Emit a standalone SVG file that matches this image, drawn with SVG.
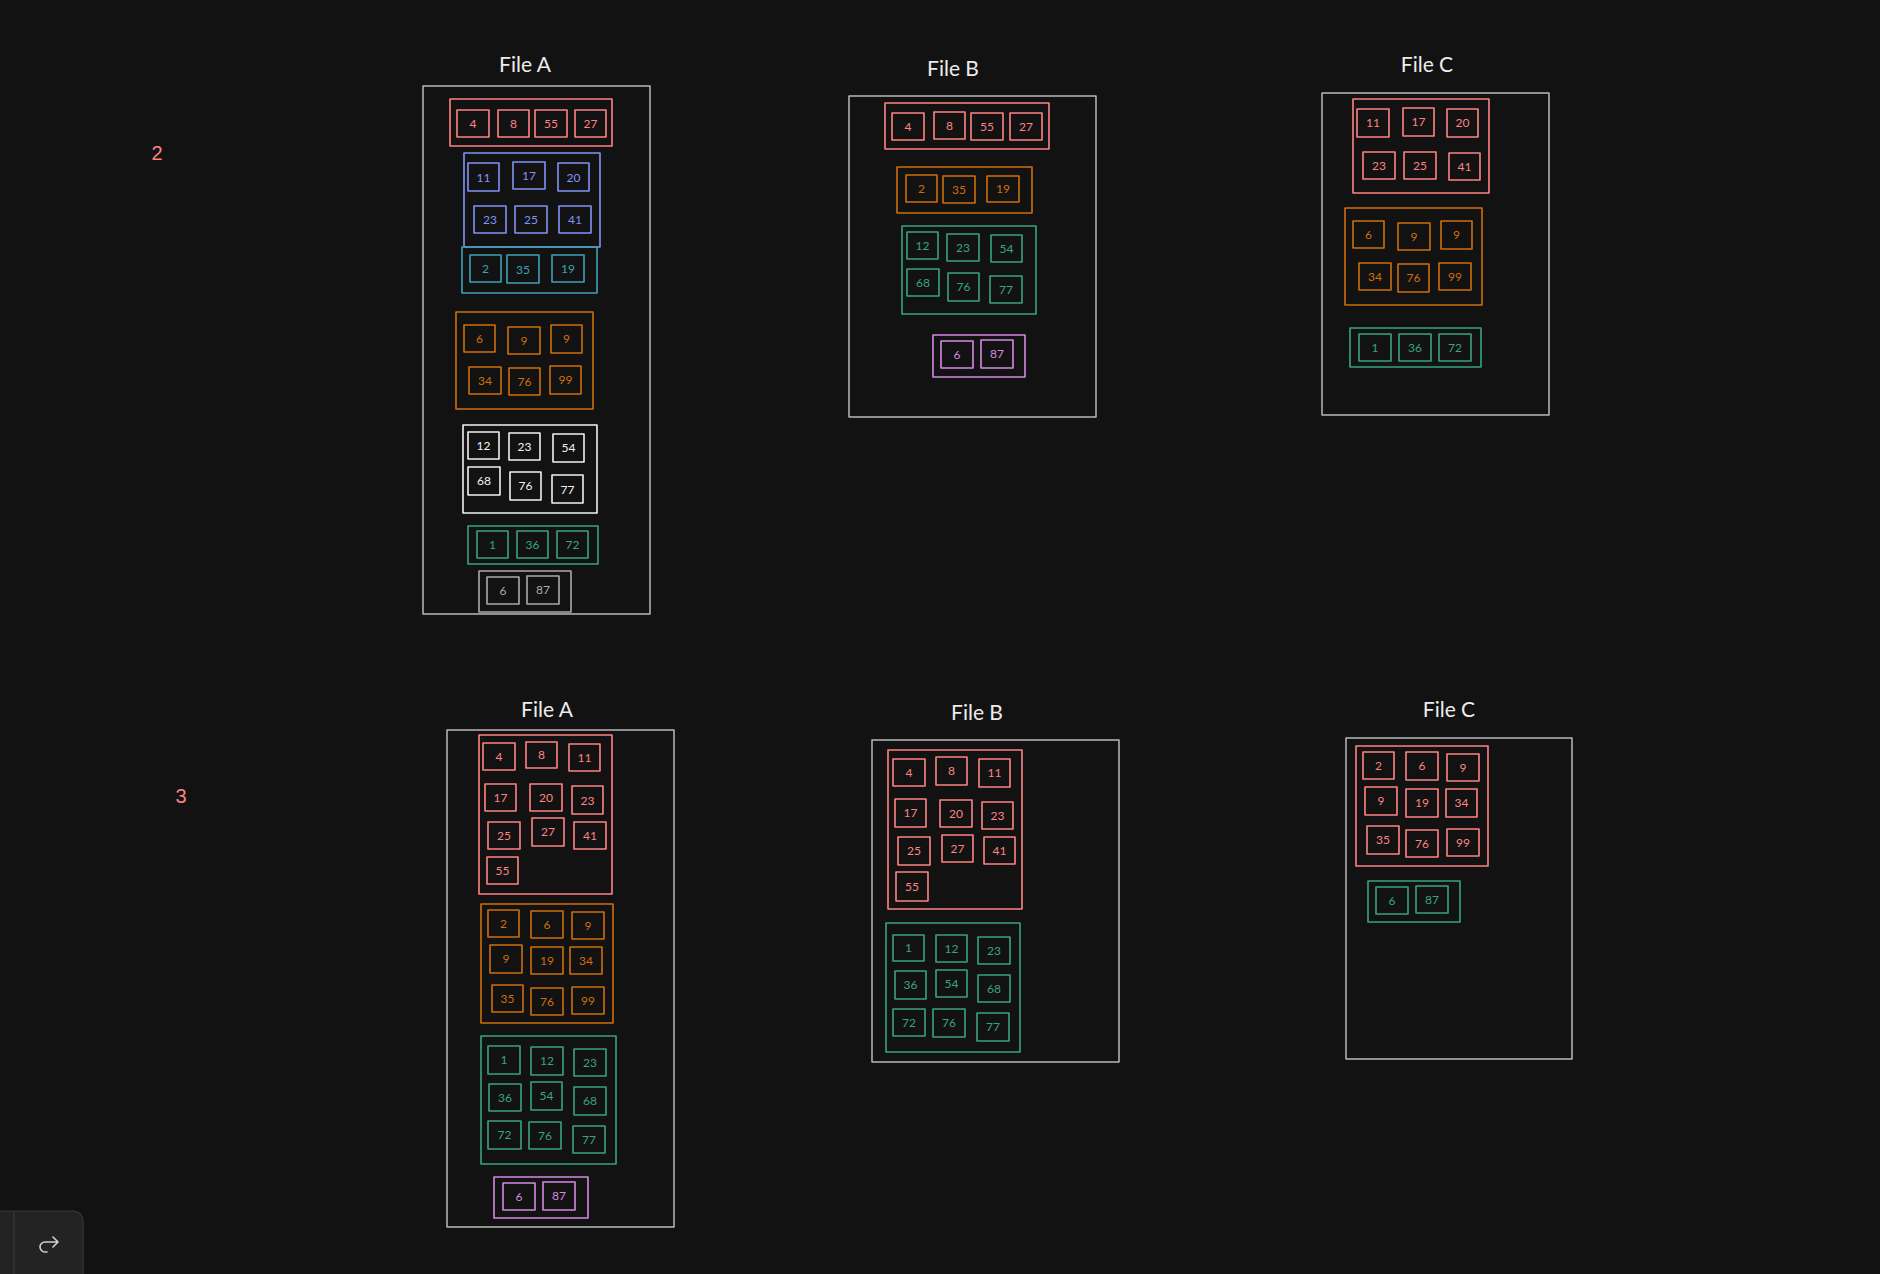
<svg xmlns="http://www.w3.org/2000/svg" width="1880" height="1274" viewBox="0 0 1880 1274">
<style>
text{font-family:Lato,"Noto Sans",sans-serif;text-anchor:middle;dominant-baseline:central}
.c rect,.frame{fill:none;stroke-width:1.6;stroke-linejoin:round}
.frame{stroke:#b9b9b9;stroke-width:1.5}
.title{font-size:21px;fill:#ececec}
.num{font-family:"Liberation Sans",Arial,sans-serif;font-size:20px;fill:#ff8383;dominant-baseline:auto}
.c text{font-size:12px}
.r rect{stroke:#ff8383}.r text{fill:#ff8383}
.b rect{stroke:#8193f5}.b text{fill:#8193f5}
.t rect{stroke:#3fa2b2}.t text{fill:#3fa2b2}
.o rect{stroke:#cf6f0b}.o text{fill:#cf6f0b}
.w rect{stroke:#f2f2f2}.w text{fill:#f2f2f2}
.g rect{stroke:#39a382}.g text{fill:#39a382}
.p rect{stroke:#d48ae2}.p text{fill:#d48ae2}
.y rect{stroke:#ababab}.y text{fill:#ababab}
</style>
<rect x="0" y="0" width="1880" height="1274" style="fill:#121212;stroke:none"/>

<text class="num" x="157" y="160">2</text>
<text class="num" x="181" y="803">3</text>

<!-- ===== Row 2 : File A ===== -->
<g id="fileA2">
<text class="title" x="525" y="63">File A</text>
<rect class="frame" x="423" y="86" width="227" height="528"/>
<g id="fileA2-red" class="c r">
<rect x="450" y="99" width="162" height="47"/>
<g id="a2r4"><rect x="457" y="110" width="32" height="27"/><text x="473" y="123">4</text></g>
<g id="a2r8"><rect x="498" y="110" width="31" height="27"/><text x="513.5" y="123">8</text></g>
<g id="a2r55"><rect x="535" y="110" width="32" height="27"/><text x="551" y="123">55</text></g>
<g id="a2r27"><rect x="575" y="110" width="31" height="27"/><text x="590.5" y="123">27</text></g>
</g>
<g id="fileA2-blue" class="c b">
<rect x="464" y="153" width="136" height="94"/>
<g id="a2b11"><rect x="468" y="163" width="31" height="28"/><text x="483.5" y="177">11</text></g>
<g id="a2b17"><rect x="513" y="162" width="32" height="27"/><text x="529" y="175">17</text></g>
<g id="a2b20"><rect x="558" y="163" width="31" height="28"/><text x="573.5" y="177">20</text></g>
<g id="a2b23"><rect x="474" y="206" width="32" height="27"/><text x="490" y="219">23</text></g>
<g id="a2b25"><rect x="515" y="206" width="32" height="27"/><text x="531" y="219">25</text></g>
<g id="a2b41"><rect x="559" y="206" width="32" height="27"/><text x="575" y="219">41</text></g>
</g>
<g id="fileA2-teal" class="c t">
<rect x="462" y="247" width="135" height="46"/>
<g id="a2t2"><rect x="470" y="255" width="31" height="27"/><text x="485.5" y="268">2</text></g>
<g id="a2t35"><rect x="507" y="255" width="32" height="28"/><text x="523" y="269">35</text></g>
<g id="a2t19"><rect x="552" y="255" width="32" height="27"/><text x="568" y="268">19</text></g>
</g>
<g id="fileA2-orange" class="c o">
<rect x="456" y="312" width="137" height="97"/>
<g id="a2o6"><rect x="464" y="325" width="31" height="27"/><text x="479.5" y="338">6</text></g>
<g id="a2o9a"><rect x="508" y="327" width="32" height="27"/><text x="524" y="340">9</text></g>
<g id="a2o9b"><rect x="551" y="325" width="31" height="28"/><text x="566.5" y="338">9</text></g>
<g id="a2o34"><rect x="469" y="367" width="32" height="27"/><text x="485" y="380">34</text></g>
<g id="a2o76"><rect x="509" y="368" width="31" height="27"/><text x="524.5" y="381">76</text></g>
<g id="a2o99"><rect x="550" y="366" width="31" height="28"/><text x="565.5" y="379">99</text></g>
</g>
<g id="fileA2-white" class="c w">
<rect x="463" y="425" width="134" height="88"/>
<g id="a2w12"><rect x="468" y="432" width="31" height="27"/><text x="483.5" y="445">12</text></g>
<g id="a2w23"><rect x="509" y="433" width="31" height="27"/><text x="524.5" y="446">23</text></g>
<g id="a2w54"><rect x="553" y="434" width="31" height="28"/><text x="568.5" y="447">54</text></g>
<g id="a2w68"><rect x="468" y="467" width="32" height="28"/><text x="484" y="480">68</text></g>
<g id="a2w76"><rect x="510" y="472" width="31" height="28"/><text x="525.5" y="485">76</text></g>
<g id="a2w77"><rect x="552" y="475" width="31" height="28"/><text x="567.5" y="489">77</text></g>
</g>
<g id="fileA2-green" class="c g">
<rect x="468" y="526" width="130" height="38"/>
<g id="a2g1"><rect x="477" y="531" width="31" height="27"/><text x="492.5" y="544">1</text></g>
<g id="a2g36"><rect x="517" y="531" width="31" height="27"/><text x="532.5" y="544">36</text></g>
<g id="a2g72"><rect x="557" y="531" width="31" height="27"/><text x="572.5" y="544">72</text></g>
</g>
<g id="fileA2-gray" class="c y">
<rect x="479" y="571" width="92" height="41"/>
<g id="a2y6"><rect x="487" y="577" width="32" height="27"/><text x="503" y="590">6</text></g>
<g id="a2y87"><rect x="527" y="576" width="32" height="28"/><text x="543" y="589">87</text></g>
</g>
</g>

<!-- ===== Row 2 : File B ===== -->
<g id="fileB2">
<text class="title" x="953" y="67">File B</text>
<rect class="frame" x="849" y="96" width="247" height="321"/>
<g id="fileB2-red" class="c r">
<rect x="885" y="103" width="164" height="46"/>
<g id="b2r4"><rect x="892" y="113" width="32" height="27"/><text x="908" y="126">4</text></g>
<g id="b2r8"><rect x="934" y="112" width="31" height="27"/><text x="949.5" y="125">8</text></g>
<g id="b2r55"><rect x="971" y="113" width="32" height="27"/><text x="987" y="126">55</text></g>
<g id="b2r27"><rect x="1010" y="113" width="32" height="27"/><text x="1026" y="126">27</text></g>
</g>
<g id="fileB2-orange" class="c o">
<rect x="897" y="167" width="135" height="46"/>
<g id="b2o2"><rect x="906" y="175" width="31" height="27"/><text x="921.5" y="188">2</text></g>
<g id="b2o35"><rect x="943" y="176" width="32" height="27"/><text x="959" y="189">35</text></g>
<g id="b2o19"><rect x="987" y="176" width="32" height="26"/><text x="1003" y="188">19</text></g>
</g>
<g id="fileB2-green" class="c g">
<rect x="902" y="226" width="134" height="88"/>
<g id="b2g12"><rect x="907" y="232" width="31" height="27"/><text x="922.5" y="245">12</text></g>
<g id="b2g23"><rect x="947" y="234" width="32" height="27"/><text x="963" y="247">23</text></g>
<g id="b2g54"><rect x="991" y="235" width="31" height="27"/><text x="1006.5" y="248">54</text></g>
<g id="b2g68"><rect x="907" y="269" width="32" height="27"/><text x="923" y="282">68</text></g>
<g id="b2g76"><rect x="948" y="273" width="31" height="28"/><text x="963.5" y="286">76</text></g>
<g id="b2g77"><rect x="990" y="276" width="32" height="27"/><text x="1006" y="289">77</text></g>
</g>
<g id="fileB2-purple" class="c p">
<rect x="933" y="335" width="92" height="42"/>
<g id="b2p6"><rect x="941" y="341" width="32" height="27"/><text x="957" y="354">6</text></g>
<g id="b2p87"><rect x="981" y="340" width="32" height="28"/><text x="997" y="353">87</text></g>
</g>
</g>

<!-- ===== Row 2 : File C ===== -->
<g id="fileC2">
<text class="title" x="1427" y="63">File C</text>
<rect class="frame" x="1322" y="93" width="227" height="322"/>
<g id="fileC2-red" class="c r">
<rect x="1353" y="99" width="136" height="94"/>
<g id="c2r11"><rect x="1357" y="109" width="32" height="28"/><text x="1373" y="122">11</text></g>
<g id="c2r17"><rect x="1403" y="108" width="31" height="28"/><text x="1418.5" y="121">17</text></g>
<g id="c2r20"><rect x="1447" y="109" width="31" height="28"/><text x="1462.5" y="122">20</text></g>
<g id="c2r23"><rect x="1363" y="152" width="32" height="27"/><text x="1379" y="165">23</text></g>
<g id="c2r25"><rect x="1404" y="152" width="32" height="27"/><text x="1420" y="165">25</text></g>
<g id="c2r41"><rect x="1449" y="153" width="31" height="27"/><text x="1464.5" y="166">41</text></g>
</g>
<g id="fileC2-orange" class="c o">
<rect x="1345" y="208" width="137" height="97"/>
<g id="c2o6"><rect x="1353" y="221" width="31" height="27"/><text x="1368.5" y="234">6</text></g>
<g id="c2o9a"><rect x="1398" y="223" width="32" height="27"/><text x="1414" y="236">9</text></g>
<g id="c2o9b"><rect x="1441" y="221" width="31" height="28"/><text x="1456.5" y="234">9</text></g>
<g id="c2o34"><rect x="1359" y="263" width="32" height="27"/><text x="1375" y="276">34</text></g>
<g id="c2o76"><rect x="1398" y="264" width="31" height="28"/><text x="1413.5" y="277">76</text></g>
<g id="c2o99"><rect x="1439" y="263" width="32" height="27"/><text x="1455" y="276">99</text></g>
</g>
<g id="fileC2-green" class="c g">
<rect x="1350" y="328" width="131" height="39"/>
<g id="c2g1"><rect x="1359" y="334" width="32" height="27"/><text x="1375" y="347">1</text></g>
<g id="c2g36"><rect x="1399" y="334" width="32" height="27"/><text x="1415" y="347">36</text></g>
<g id="c2g72"><rect x="1439" y="334" width="32" height="27"/><text x="1455" y="347">72</text></g>
</g>
</g>

<!-- ===== Row 3 : File A ===== -->
<g id="fileA3">
<text class="title" x="547" y="708">File A</text>
<rect class="frame" x="447" y="730" width="227" height="497"/>
<g id="fileA3-red" class="c r">
<rect x="479" y="735" width="133" height="159"/>
<g id="a3r4"><rect x="483" y="743" width="32" height="27"/><text x="499" y="756">4</text></g>
<g id="a3r8"><rect x="526" y="742" width="31" height="26"/><text x="541.5" y="754">8</text></g>
<g id="a3r11"><rect x="569" y="744" width="31" height="27"/><text x="584.5" y="757">11</text></g>
<g id="a3r17"><rect x="485" y="784" width="31" height="27"/><text x="500.5" y="797">17</text></g>
<g id="a3r20"><rect x="530" y="784" width="32" height="27"/><text x="546" y="797">20</text></g>
<g id="a3r23"><rect x="572" y="786" width="31" height="28"/><text x="587.5" y="800">23</text></g>
<g id="a3r25"><rect x="488" y="822" width="32" height="27"/><text x="504" y="835">25</text></g>
<g id="a3r27"><rect x="532" y="818" width="32" height="28"/><text x="548" y="831">27</text></g>
<g id="a3r41"><rect x="574" y="822" width="32" height="27"/><text x="590" y="835">41</text></g>
<g id="a3r55"><rect x="487" y="857" width="31" height="27"/><text x="502.5" y="870">55</text></g>
</g>
<g id="fileA3-orange" class="c o">
<rect x="481" y="904" width="132" height="119"/>
<g id="a3o2"><rect x="488" y="910" width="31" height="27"/><text x="503.5" y="923">2</text></g>
<g id="a3o6"><rect x="531" y="911" width="32" height="27"/><text x="547" y="924">6</text></g>
<g id="a3o9a"><rect x="572" y="912" width="32" height="27"/><text x="588" y="925">9</text></g>
<g id="a3o9b"><rect x="490" y="945" width="32" height="28"/><text x="506" y="958">9</text></g>
<g id="a3o19"><rect x="531" y="947" width="32" height="27"/><text x="547" y="960">19</text></g>
<g id="a3o34"><rect x="570" y="947" width="32" height="27"/><text x="586" y="960">34</text></g>
<g id="a3o35"><rect x="492" y="985" width="31" height="27"/><text x="507.5" y="998">35</text></g>
<g id="a3o76"><rect x="531" y="988" width="32" height="27"/><text x="547" y="1001">76</text></g>
<g id="a3o99"><rect x="572" y="987" width="32" height="27"/><text x="588" y="1000">99</text></g>
</g>
<g id="fileA3-green" class="c g">
<rect x="481" y="1036" width="135" height="128"/>
<g id="a3g1"><rect x="488" y="1046" width="32" height="28"/><text x="504" y="1059">1</text></g>
<g id="a3g12"><rect x="531" y="1047" width="32" height="28"/><text x="547" y="1060">12</text></g>
<g id="a3g23"><rect x="574" y="1049" width="32" height="27"/><text x="590" y="1062">23</text></g>
<g id="a3g36"><rect x="489" y="1084" width="32" height="27"/><text x="505" y="1097">36</text></g>
<g id="a3g54"><rect x="531" y="1082" width="31" height="28"/><text x="546.5" y="1095">54</text></g>
<g id="a3g68"><rect x="574" y="1087" width="32" height="28"/><text x="590" y="1100">68</text></g>
<g id="a3g72"><rect x="488" y="1121" width="33" height="28"/><text x="504.5" y="1134">72</text></g>
<g id="a3g76"><rect x="529" y="1122" width="32" height="27"/><text x="545" y="1135">76</text></g>
<g id="a3g77"><rect x="573" y="1126" width="32" height="27"/><text x="589" y="1139">77</text></g>
</g>
<g id="fileA3-purple" class="c p">
<rect x="494" y="1177" width="94" height="41"/>
<g id="a3p6"><rect x="503" y="1183" width="32" height="27"/><text x="519" y="1196">6</text></g>
<g id="a3p87"><rect x="543" y="1182" width="32" height="28"/><text x="559" y="1195">87</text></g>
</g>
</g>

<!-- ===== Row 3 : File B ===== -->
<g id="fileB3">
<text class="title" x="977" y="711">File B</text>
<rect class="frame" x="872" y="740" width="247" height="322"/>
<g id="fileB3-red" class="c r">
<rect x="888" y="750" width="134" height="159"/>
<g id="b3r4"><rect x="893" y="759" width="32" height="27"/><text x="909" y="772">4</text></g>
<g id="b3r8"><rect x="936" y="757" width="31" height="28"/><text x="951.5" y="770">8</text></g>
<g id="b3r11"><rect x="979" y="759" width="31" height="28"/><text x="994.5" y="772">11</text></g>
<g id="b3r17"><rect x="895" y="799" width="31" height="28"/><text x="910.5" y="812">17</text></g>
<g id="b3r20"><rect x="940" y="800" width="32" height="27"/><text x="956" y="813">20</text></g>
<g id="b3r23"><rect x="982" y="802" width="31" height="27"/><text x="997.5" y="815">23</text></g>
<g id="b3r25"><rect x="898" y="837" width="32" height="28"/><text x="914" y="850">25</text></g>
<g id="b3r27"><rect x="942" y="835" width="31" height="27"/><text x="957.5" y="848">27</text></g>
<g id="b3r41"><rect x="984" y="837" width="31" height="27"/><text x="999.5" y="850">41</text></g>
<g id="b3r55"><rect x="896" y="872" width="32" height="29"/><text x="912" y="886">55</text></g>
</g>
<g id="fileB3-green" class="c g">
<rect x="886" y="923" width="134" height="129"/>
<g id="b3g1"><rect x="893" y="935" width="31" height="26"/><text x="908.5" y="947">1</text></g>
<g id="b3g12"><rect x="936" y="935" width="31" height="27"/><text x="951.5" y="948">12</text></g>
<g id="b3g23"><rect x="978" y="937" width="32" height="27"/><text x="994" y="950">23</text></g>
<g id="b3g36"><rect x="895" y="971" width="31" height="28"/><text x="910.5" y="984">36</text></g>
<g id="b3g54"><rect x="936" y="970" width="31" height="27"/><text x="951.5" y="983">54</text></g>
<g id="b3g68"><rect x="978" y="975" width="32" height="27"/><text x="994" y="988">68</text></g>
<g id="b3g72"><rect x="893" y="1009" width="32" height="27"/><text x="909" y="1022">72</text></g>
<g id="b3g76"><rect x="933" y="1009" width="32" height="28"/><text x="949" y="1022">76</text></g>
<g id="b3g77"><rect x="977" y="1013" width="32" height="28"/><text x="993" y="1026">77</text></g>
</g>
</g>

<!-- ===== Row 3 : File C ===== -->
<g id="fileC3">
<text class="title" x="1449" y="708">File C</text>
<rect class="frame" x="1346" y="738" width="226" height="321"/>
<g id="fileC3-red" class="c r">
<rect x="1356" y="746" width="132" height="120"/>
<g id="c3r2"><rect x="1363" y="752" width="31" height="27"/><text x="1378.5" y="765">2</text></g>
<g id="c3r6"><rect x="1406" y="752" width="32" height="28"/><text x="1422" y="765">6</text></g>
<g id="c3r9a"><rect x="1447" y="754" width="32" height="27"/><text x="1463" y="767">9</text></g>
<g id="c3r9b"><rect x="1365" y="787" width="32" height="28"/><text x="1381" y="800">9</text></g>
<g id="c3r19"><rect x="1406" y="789" width="32" height="28"/><text x="1422" y="802">19</text></g>
<g id="c3r34"><rect x="1446" y="789" width="31" height="28"/><text x="1461.5" y="802">34</text></g>
<g id="c3r35"><rect x="1367" y="826" width="32" height="28"/><text x="1383" y="839">35</text></g>
<g id="c3r76"><rect x="1406" y="830" width="32" height="27"/><text x="1422" y="843">76</text></g>
<g id="c3r99"><rect x="1447" y="829" width="32" height="27"/><text x="1463" y="842">99</text></g>
</g>
<g id="fileC3-green" class="c g">
<rect x="1368" y="881" width="92" height="41"/>
<g id="c3g6"><rect x="1376" y="887" width="32" height="27"/><text x="1392" y="900">6</text></g>
<g id="c3g87"><rect x="1416" y="886" width="32" height="27"/><text x="1432" y="899">87</text></g>
</g>
</g>

<!-- toolbar button -->
<g id="redo-button">
<path d="M-2 1211 H73 A10 10 0 0 1 83 1221 V1276 H-2 Z" fill="#232323" stroke="#383838" stroke-width="1.2"/>
<line x1="14" y1="1211" x2="14" y2="1276" stroke="#383838" stroke-width="1.2"/>
<path d="M58 1242 H45 A5 5 0 0 0 45 1252 H47 M53 1237 L58 1242 L53 1247" fill="none" stroke="#d0d0d0" stroke-width="1.6" stroke-linecap="round" stroke-linejoin="round"/>
</g>
</svg>
